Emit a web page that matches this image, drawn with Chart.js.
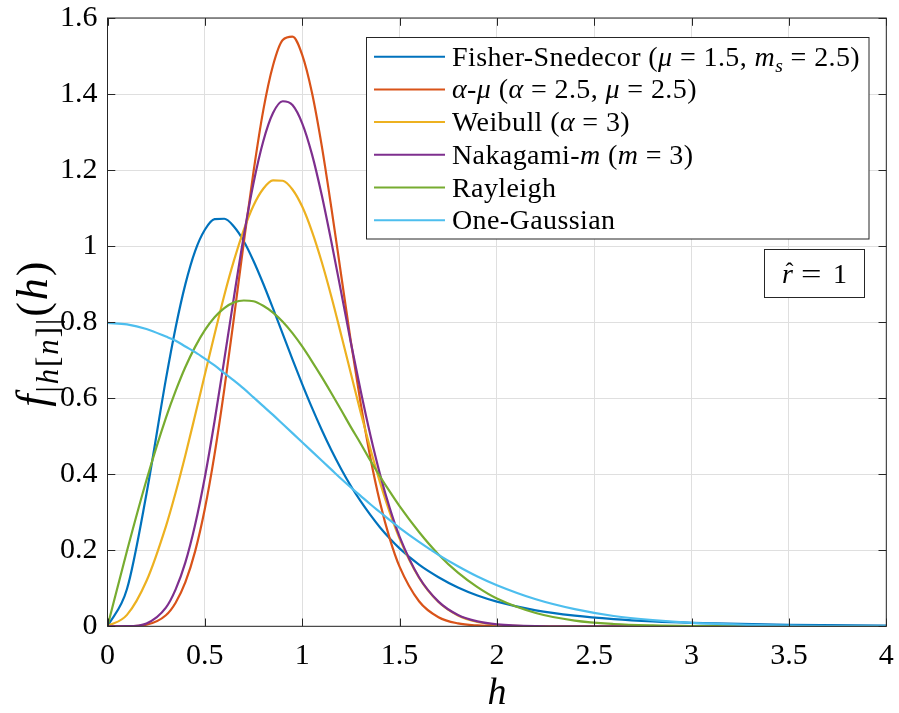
<!DOCTYPE html>
<html>
<head>
<meta charset="utf-8">
<script src="https://cdn.jsdelivr.net/npm/chart.js@4.4.1/dist/chart.umd.min.js"></script>
<style>
  html, body { margin: 0; padding: 0; background: #fff; }
  canvas { display: block; }
</style>
</head>
<body>
<canvas id="pdf" width="899" height="713"></canvas>
<script>
// channel amplitude pdfs, r_hat = 1
const hGrid = [0, 0.1, 0.2, 0.3, 0.35, 0.4, 0.45, 0.5, 0.55, 0.6, 0.65, 0.7, 0.75, 0.8, 0.85, 0.9, 0.95, 1.0,
  1.05, 1.1, 1.15, 1.2, 1.25, 1.3, 1.35, 1.4, 1.45, 1.5, 1.6, 1.7, 1.8, 1.9, 2.0, 2.2, 2.4, 2.6, 2.8, 3.0, 3.5, 4.0]

const fisherSnedecor = [0, 0.098, 0.348, 0.650, 0.786, 0.900, 0.987, 1.043, 1.071, 1.072, 1.051, 1.013, 0.961, 0.901,
  0.836, 0.769, 0.702, 0.637, 0.575, 0.517, 0.463, 0.414, 0.369, 0.329, 0.293, 0.260, 0.231, 0.205, 0.162, 0.129,
  0.102, 0.081, 0.065, 0.042, 0.028, 0.019, 0.013, 0.0092, 0.0041, 0.0020]
const alphaMu = [0, 0.0001, 0.004, 0.029, 0.062, 0.116, 0.197, 0.309, 0.453, 0.624, 0.814, 1.010, 1.196, 1.357,
  1.475, 1.542, 1.551, 1.503, 1.404, 1.265, 1.100, 0.924, 0.749, 0.587, 0.444, 0.325, 0.230, 0.157, 0.066, 0.024,
  0.0077, 0.0022, 0.0005, 0, 0, 0, 0, 0, 0, 0]
const weibull = [0, 0.030, 0.119, 0.263, 0.352, 0.450, 0.555, 0.662, 0.768, 0.871, 0.963, 1.043, 1.107, 1.151,
  1.173, 1.172, 1.149, 1.104, 1.039, 0.959, 0.867, 0.767, 0.665, 0.563, 0.467, 0.378, 0.299, 0.231, 0.128, 0.064,
  0.0286, 0.0114, 0.0040, 0.0003, 0, 0, 0, 0, 0, 0]
const nakagami = [0, 0.0003, 0.0075, 0.049, 0.097, 0.168, 0.267, 0.392, 0.540, 0.702, 0.868, 1.027, 1.166, 1.276,
  1.350, 1.381, 1.371, 1.323, 1.242, 1.135, 1.011, 0.879, 0.746, 0.620, 0.503, 0.399, 0.310, 0.236, 0.129, 0.065,
  0.030, 0.013, 0.0052, 0.0007, 0.0001, 0, 0, 0, 0, 0]
const rayleigh = [0, 0.198, 0.384, 0.548, 0.619, 0.682, 0.735, 0.779, 0.813, 0.837, 0.852, 0.857, 0.855, 0.843,
  0.825, 0.801, 0.771, 0.736, 0.697, 0.656, 0.613, 0.569, 0.524, 0.481, 0.436, 0.394, 0.354, 0.316, 0.248, 0.189,
  0.141, 0.103, 0.073, 0.035, 0.015, 0.006, 0.0022, 0.0007, 0, 0]
const oneGaussian = [0.798, 0.794, 0.782, 0.762, 0.751, 0.736, 0.721, 0.704, 0.686, 0.666, 0.646, 0.625, 0.602, 0.579,
  0.556, 0.532, 0.508, 0.484, 0.460, 0.436, 0.412, 0.388, 0.365, 0.343, 0.321, 0.300, 0.279, 0.259, 0.222, 0.188,
  0.158, 0.131, 0.108, 0.071, 0.045, 0.027, 0.016, 0.0089, 0.0017, 0.0003]

const xTicks = [0, 0.5, 1, 1.5, 2, 2.5, 3, 3.5, 4]
const yTicks = [0, 0.2, 0.4, 0.6, 0.8, 1, 1.2, 1.4, 1.6]

// legend entries as [text, style]: r roman, i italic, si italic subscript, sr roman subscript
const legendLabels = [
  [["Fisher-Snedecor (", "r"], ["μ", "i"], [" = 1.5, ", "r"], ["m", "i"], ["s", "si"], [" = 2.5)", "r"]],
  [["α", "i"], ["-", "r"], ["μ", "i"], [" (", "r"], ["α", "i"], [" = 2.5, ", "r"], ["μ", "i"], [" = 2.5)", "r"]],
  [["Weibull (", "r"], ["α", "i"], [" = 3)", "r"]],
  [["Nakagami-", "r"], ["m", "i"], [" (", "r"], ["m", "i"], [" = 3)", "r"]],
  [["Rayleigh", "r"]],
  [["One-Gaussian", "r"]]
]
const xTitle = [["h", "i"]]
const yTitle = [["f", "i"], ["|", "sr"], ["h", "si"], ["[", "sr"], ["n", "si"], ["]|", "sr"], ["(", "r"], ["h", "i"], [")", "r"]]

const series = [fisherSnedecor, alphaMu, weibull, nakagami, rayleigh, oneGaussian]
const colors = ["#0072BD", "#D95319", "#EDB120", "#7E2F8E", "#77AC30", "#4DBEEE"]

const SERIF = '"Liberation Serif", "DejaVu Serif", serif'
const INK = "#262626"

function fontFor(style, size) {
  const sub = style[0] === "s"
  return (style.endsWith("i") ? "italic " : "") + (sub ? size * 0.7 : size) + "px " + SERIF
}

function drawRich(ctx, segs, x, y, size) {
  for (const [text, style] of segs) {
    ctx.font = fontFor(style, size)
    ctx.fillText(text, x, style[0] === "s" ? y + size * 0.24 : y)
    x += ctx.measureText(text).width
  }
  return x
}

function richWidth(ctx, segs, size) {
  let w = 0
  for (const [text, style] of segs) {
    ctx.font = fontFor(style, size)
    w += ctx.measureText(text).width
  }
  return w
}

const decorations = {
  id: "decorations",
  afterDatasetsDraw(chart) {
    const { ctx, chartArea: a, scales } = chart
    ctx.save()
    ctx.strokeStyle = INK
    ctx.lineWidth = 1
    ctx.strokeRect(a.left, a.top, a.right - a.left, a.bottom - a.top)

    // inward ticks on all four sides
    const tl = 7.8
    ctx.beginPath()
    for (const v of xTicks) {
      const px = Math.round(scales.x.getPixelForValue(v)) + 0.5
      ctx.moveTo(px, a.bottom); ctx.lineTo(px, a.bottom - tl)
      ctx.moveTo(px, a.top); ctx.lineTo(px, a.top + tl)
    }
    for (const v of yTicks) {
      const py = Math.round(scales.y.getPixelForValue(v)) + 0.5
      ctx.moveTo(a.left, py); ctx.lineTo(a.left + tl, py)
      ctx.moveTo(a.right, py); ctx.lineTo(a.right - tl, py)
    }
    ctx.stroke()

    // legend
    const lx = 366.5, ly = 37.5, lw = 502.5, lh = 201.5
    ctx.fillStyle = "#fff"
    ctx.fillRect(lx, ly, lw, lh)
    ctx.strokeRect(lx, ly, lw, lh)
    ctx.textBaseline = "alphabetic"
    ctx.textAlign = "left"
    legendLabels.forEach((segs, i) => {
      const cy = 56.7 + i * 32.7
      ctx.strokeStyle = colors[i]
      ctx.lineWidth = 2
      ctx.beginPath()
      ctx.moveTo(374, cy); ctx.lineTo(445, cy)
      ctx.stroke()
      ctx.fillStyle = "#000"
      ctx.letterSpacing = "0.4px"
      drawRich(ctx, segs, 452, cy + 9, 28)
      ctx.letterSpacing = "0px"
    })

    // r_hat annotation box
    ctx.strokeStyle = INK
    ctx.lineWidth = 1
    ctx.fillStyle = "#fff"
    ctx.fillRect(764.5, 249.5, 100, 48)
    ctx.strokeRect(764.5, 249.5, 100, 48)
    ctx.fillStyle = "#000"
    ctx.font = "italic 28px " + SERIF
    const rx = 782, ry = 283
    ctx.fillText("r", rx, ry)
    const rw = ctx.measureText("r").width
    ctx.font = "24px " + SERIF
    ctx.textAlign = "center"
    ctx.fillText("ˆ", rx + rw / 2 + 2, ry - 4)
    ctx.textAlign = "left"
    ctx.font = "28px " + SERIF
    ctx.save()
    ctx.translate(rx + rw + 8, ry)
    ctx.scale(1.3, 1)
    ctx.fillText("=", 0, 0)
    ctx.restore()
    ctx.fillText("1", 833, ry)

    // axis titles, centred on the axes
    ctx.fillStyle = "#000"
    const xw = richWidth(ctx, xTitle, 38)
    drawRich(ctx, xTitle, (a.left + a.right) / 2 - xw / 2, 704, 38)
    ctx.translate(47, (a.top + a.bottom) / 2)
    ctx.rotate(-Math.PI / 2)
    ctx.letterSpacing = "2px"
    const yw = richWidth(ctx, yTitle, 44) + 2 * 11
    drawRich(ctx, yTitle, -yw / 2, 0, 44)
    ctx.letterSpacing = "0px"
    ctx.restore()
  }
}

new Chart(document.getElementById("pdf"), {
  type: "line",
  data: {
    datasets: series.map((vals, i) => ({
      data: hGrid.map((h, k) => ({ x: h, y: vals[k] })),
      borderColor: colors[i],
      borderWidth: 2.2,
      pointRadius: 0,
      fill: false,
      cubicInterpolationMode: "monotone",
      order: series.length - i
    }))
  },
  options: {
    responsive: false,
    animation: false,
    layout: { padding: { top: 18, right: 12.7, left: 0, bottom: 0 } },
    plugins: { legend: { display: false }, tooltip: { enabled: false } },
    scales: {
      x: {
        type: "linear", min: 0, max: 4,
        afterBuildTicks: s => { s.ticks = xTicks.map(v => ({ value: v })) },
        afterFit: s => { s.height = 86.7; s.paddingLeft = 0; s.paddingRight = 0 },
        grid: { color: "#dfdfdf", drawTicks: false },
        border: { display: false },
        ticks: { color: "#000", padding: 12, font: { family: SERIF, size: 30 }, maxRotation: 0, callback: v => String(v) }
      },
      y: {
        type: "linear", min: 0, max: 1.6,
        afterBuildTicks: s => { s.ticks = yTicks.map(v => ({ value: v })) },
        afterFit: s => { s.width = 107.5; s.paddingTop = 0; s.paddingBottom = 0 },
        grid: { color: "#dfdfdf", drawTicks: false },
        border: { display: false },
        ticks: { color: "#000", padding: 10, font: { family: SERIF, size: 30 }, callback: v => String(v) }
      }
    }
  },
  plugins: [decorations]
})
</script>
</body>
</html>
